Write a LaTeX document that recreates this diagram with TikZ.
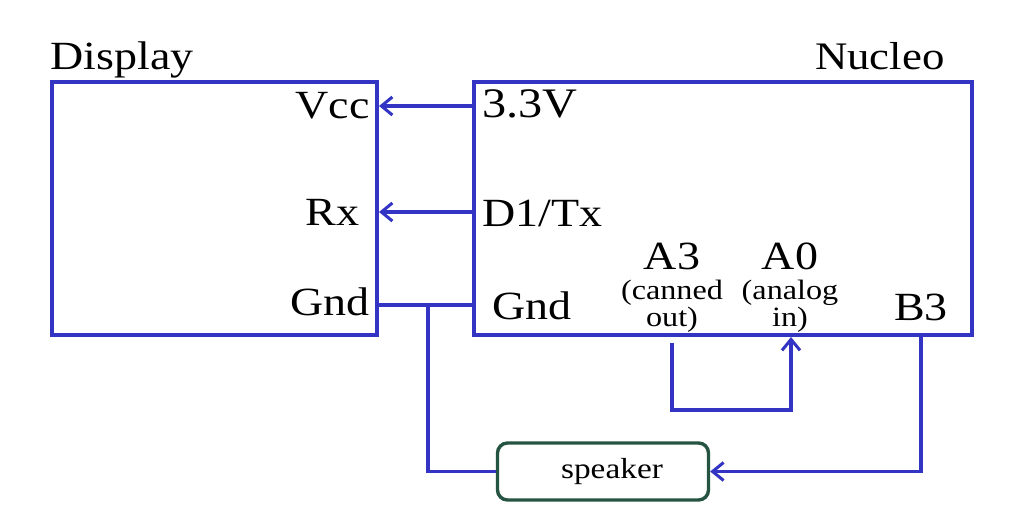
\documentclass[tikz,border=0pt]{standalone}
\usepackage{fontspec}
\setmainfont[FakeStretch=1.15]{Liberation Serif}
\usetikzlibrary{arrows.meta}
\definecolor{wire}{RGB}{52,52,196}
\definecolor{spk}{RGB}{38,84,66}
\tikzstyle{board}=[draw=wire,line width=1.7pt,inner sep=0pt]
\tikzstyle{edge}=[draw=wire,line width=1.7pt]
\tikzstyle{arr}=[edge,-{Straight Barb[length=5.5pt,width=9pt,line width=1.5pt]}]
\tikzstyle{pin}=[inner sep=0pt,font=\fontsize{20}{22}\selectfont]
\tikzstyle{small}=[inner sep=0pt,font=\fontsize{14}{13.5}\selectfont]

\begin{document}
\begin{tikzpicture}[x=0.5pt,y=-0.5pt]
    \useasboundingbox (0,0) rectangle (1020,528);

    \node (disp)[board,minimum width=162.5pt,minimum height=126.5pt] at (214.5,208.5) {};
    \node (nuc)[board,minimum width=249pt,minimum height=126.5pt] at (723,208.5) {};
    \node (spk)[draw=spk,line width=1.7pt,rounded corners=5pt,minimum width=105.5pt,minimum height=28.5pt,font=\fontsize{14.5}{16}\selectfont] at (603,471.5) {\hspace{9pt}speaker};

    \node (displbl)[anchor=base west,inner sep=0pt,font=\fontsize{20}{22}\selectfont] at (50,70) {Display};
    \node (nuclbl)[anchor=base east,inner sep=0pt,font=\fontsize{19.5}{22}\selectfont] at (945,70) {Nucleo};

    \node (vcc)[pin,anchor=base east] at (370,119) {Vcc};
    \node (rx)[pin,anchor=base east] at (360,226) {Rx};
    \node (gndd)[pin,anchor=base east] at (370,316) {Gnd};
    \node (v33)[pin,anchor=base west,font=\fontsize{21}{22}\selectfont] at (482,118) {3.3V};
    \node (tx)[pin,anchor=base west] at (482,227) {D1/Tx};
    \node (gndn)[pin,anchor=base west] at (492,320) {Gnd};
    \node (a3)[pin,anchor=base] at (672,270) {A3};
    \node (a3s)[small,anchor=base,align=center] at (672,327) {(canned\\out)};
    \node (a0)[pin,anchor=base] at (790,270) {A0};
    \node (a0s)[small,anchor=base,align=center] at (790,327) {(analog\\in)};
    \node (b3)[pin,anchor=base] at (921,321) {B3};

    \coordinate (p33) at (474,106);
    \coordinate (pvcc) at (379,106);
    \coordinate (ptx) at (474,212);
    \coordinate (prx) at (379,212);
    \coordinate (pgd) at (377,305);
    \coordinate (pgn) at (474,305);
    \coordinate (tap) at (428,305);
    \coordinate (pa3) at (672,343);
    \coordinate (pa0) at (791,337);
    \coordinate (pb3) at (921,333);

    \draw[arr] (p33) -- (pvcc);
    \draw[arr] (ptx) -- (prx);
    \draw[edge] (pgd) -- (pgn);
    \draw[edge] (tap) |- (spk.west);
    \draw[arr] (pa3) -- (672,410) -- (791,410) -- (pa0);
    \draw[arr] (pb3) |- (spk.east);
\end{tikzpicture}
\end{document}
